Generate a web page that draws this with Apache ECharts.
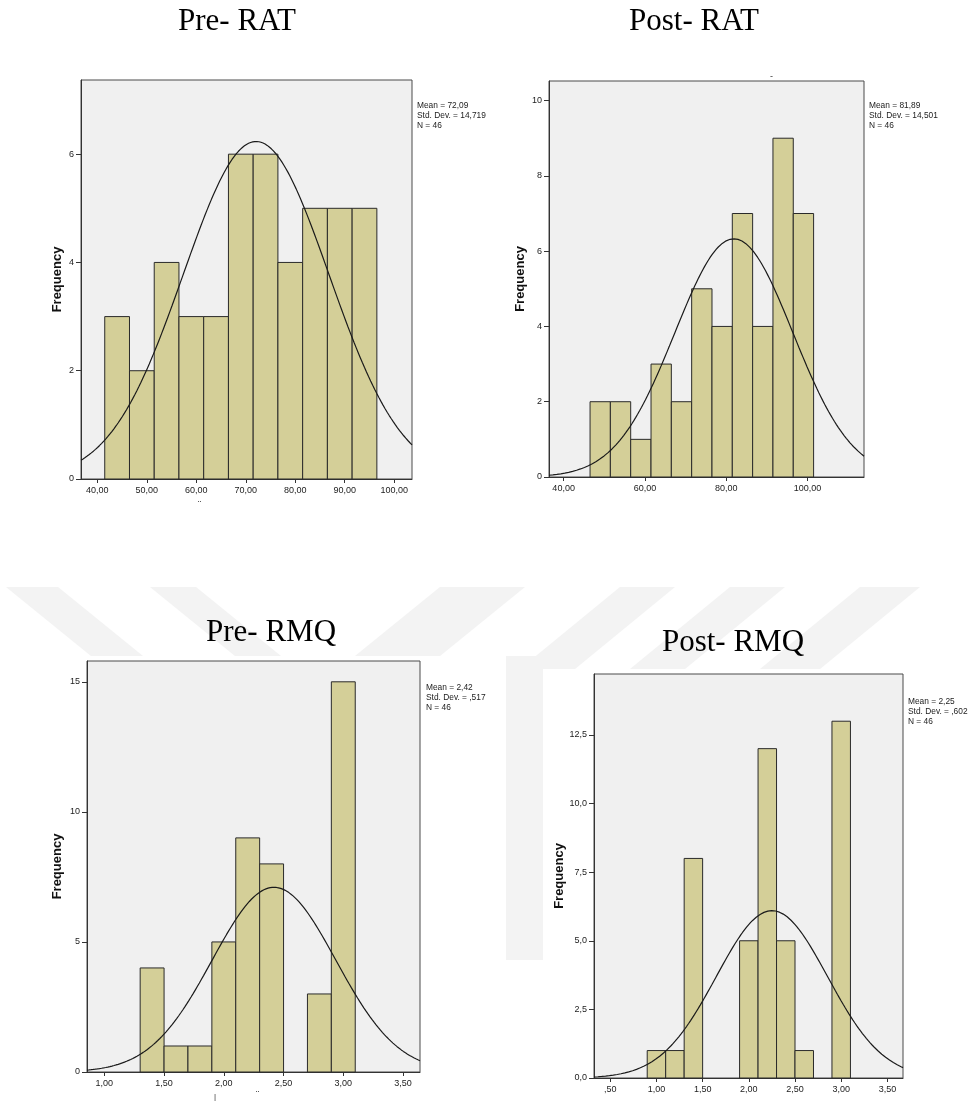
<!DOCTYPE html>
<html>
<head>
<meta charset="utf-8">
<title>RAT / RMQ histograms</title>
<script src="https://cdn.jsdelivr.net/npm/echarts@6/dist/echarts.min.js"></script>
<style>
  html, body { margin: 0; padding: 0; background: #fff; }
  #main { width: 968px; height: 1103px; }
</style>
</head>
<body>
<div id="main"></div>
<script>
// Pre- RAT (lower bin edges, width 5)
const preRatBins = [41.5, 46.5, 51.5, 56.5, 61.5, 66.5, 71.5, 76.5, 81.5, 86.5, 91.5]
const preRatCounts = [3, 2, 4, 3, 3, 6, 6, 4, 5, 5, 5]
const preRatStats = [72.09, 14.719, 46]
const preRatXTicks = [40, 50, 60, 70, 80, 90, 100]
const preRatYTicks = [0, 2, 4, 6]

// Post- RAT
const postRatBins = [46.5, 51.5, 56.5, 61.5, 66.5, 71.5, 76.5, 81.5, 86.5, 91.5, 96.5]
const postRatCounts = [2, 2, 1, 3, 2, 5, 4, 7, 4, 9, 7]
const postRatStats = [81.89, 14.501, 46]
const postRatXTicks = [40, 60, 80, 100]
const postRatYTicks = [0, 2, 4, 6, 8, 10]

// Pre- RMQ (width 0.2)
const preRmqBins = [1.3, 1.5, 1.7, 1.9, 2.1, 2.3, 2.5, 2.7, 2.9]
const preRmqCounts = [4, 1, 1, 5, 9, 8, 0, 3, 15]
const preRmqStats = [2.42, 0.517, 46]
const preRmqXTicks = [1, 1.5, 2, 2.5, 3, 3.5]
const preRmqYTicks = [0, 5, 10, 15]

// Post- RMQ
const postRmqBins = [0.9, 1.1, 1.3, 1.5, 1.7, 1.9, 2.1, 2.3, 2.5, 2.7, 2.9]
const postRmqCounts = [1, 1, 8, 0, 0, 5, 12, 5, 1, 0, 13]
const postRmqStats = [2.25, 0.602, 46]
const postRmqXTicks = [0.5, 1, 1.5, 2, 2.5, 3, 3.5]
const postRmqYTicks = [0, 2.5, 5, 7.5, 10, 12.5]

const statLabels = ['Mean = 72,09\nStd. Dev. = 14,719\nN = 46',
  'Mean = 81,89\nStd. Dev. = 14,501\nN = 46',
  'Mean = 2,42\nStd. Dev. = ,517\nN = 46',
  'Mean = 2,25\nStd. Dev. = ,602\nN = 46']

const titles = ['Pre- RAT', 'Post- RAT', 'Pre- RMQ', 'Post- RMQ']

const sans = '"Liberation Sans", Arial, sans-serif'
const barFill = '#d4cf98'

let myChart = echarts.init(document.getElementById('main'), null, { renderer: 'canvas' })

function fmtX (v) {
  return v.toFixed(2).replace('.', ',').replace(/^0,/, ',')
}

function xAxisFor (gi, min, max, ticks) {
  return {
    type: 'value',
    gridIndex: gi,
    min: min,
    max: max,
    axisLine: { show: true, onZero: false, lineStyle: { color: '#333', width: 1 } },
    axisTick: { show: true, length: 4, customValues: ticks, lineStyle: { color: '#333' } },
    axisLabel: {
      customValues: ticks,
      formatter: fmtX,
      margin: 7,
      fontFamily: sans,
      fontSize: 9,
      color: '#222'
    },
    splitLine: { show: false }
  }
}

function yAxisFor (gi, max, ticks, gap, decimals) {
  return {
    type: 'value',
    gridIndex: gi,
    min: 0,
    max: max,
    name: 'Frequency',
    nameLocation: 'middle',
    nameRotate: 90,
    nameGap: gap,
    nameTextStyle: { fontFamily: sans, fontWeight: 'bold', fontSize: 13, color: '#111' },
    axisLine: { show: true, lineStyle: { color: '#333', width: 1 } },
    axisTick: { show: true, length: 5, customValues: ticks, lineStyle: { color: '#333' } },
    axisLabel: {
      customValues: ticks,
      formatter: v => v.toFixed(decimals).replace('.', ','),
      margin: 7,
      fontFamily: sans,
      fontSize: 9,
      color: '#222'
    },
    splitLine: { show: false }
  }
}

// histogram bars through the axis scales
function histSeries (gi, bins, counts, width) {
  return {
    type: 'custom',
    xAxisIndex: gi,
    yAxisIndex: gi,
    z: 2,
    data: counts.map((c, i) => [bins[i], bins[i] + width, c]),
    encode: { x: [0, 1], y: 2 },
    renderItem (params, api) {
      if (!api.value(2)) return { type: 'group', children: [] }
      let p0 = api.coord([api.value(0), api.value(2)])
      let p1 = api.coord([api.value(1), 0])
      return {
        type: 'rect',
        shape: { x: p0[0], y: p0[1], width: p1[0] - p0[0], height: p1[1] - p0[1] },
        style: { fill: barFill, stroke: '#2a2a2a', lineWidth: 1 }
      }
    }
  }
}

// fitted normal curve from the printed Mean / Std. Dev. / N
function normalSeries (gi, stats, width, min, max) {
  let [mean, sd, n] = stats
  let pts = []
  for (let i = 0; i <= 160; i++) {
    let x = min + (max - min) * i / 160
    let z = (x - mean) / sd
    pts.push([x, n * width * Math.exp(-z * z / 2) / (sd * Math.sqrt(2 * Math.PI))])
  }
  return {
    type: 'line',
    xAxisIndex: gi,
    yAxisIndex: gi,
    z: 3,
    data: pts,
    showSymbol: false,
    smooth: false,
    silent: true,
    lineStyle: { color: '#1a1a1a', width: 1.2 }
  }
}

const grids = [
  { left: 81, top: 80, width: 331, height: 399 },
  { left: 549, top: 81, width: 315, height: 396 },
  { left: 87, top: 661, width: 333, height: 411 },
  { left: 594, top: 674, width: 309, height: 404 }
].map(g => Object.assign(g, {
  show: true,
  backgroundColor: '#f0f0f0',
  borderColor: '#4a4a4a',
  borderWidth: 1,
  containLabel: false
}))

const xRanges = [[36.7, 103.6], [36.4, 113.9], [0.855, 3.642], [0.324, 3.669]]

// faint watermark behind the charts
const wm = '#f3f3f3'
const watermark = [
  [[6, 587], [58, 587], [143, 656], [91, 656]],
  [[150, 587], [196, 587], [281, 656], [235, 656]],
  [[440, 587], [525, 587], [440, 656], [355, 656]],
  [[620, 587], [675, 587], [575, 669], [520, 669]],
  [[730, 587], [785, 587], [685, 669], [630, 669]],
  [[860, 587], [920, 587], [820, 669], [760, 669]],
  [[506, 656], [543, 656], [543, 960], [506, 960]]
].map(pts => ({ type: 'polygon', z: -20, silent: true, shape: { points: pts }, style: { fill: wm } }))

const whiteBlocks = [
  { type: 'rect', z: -10, silent: true, shape: { x: 0, y: 656, width: 506, height: 447 }, style: { fill: '#fff' } },
  { type: 'rect', z: -10, silent: true, shape: { x: 543, y: 669, width: 425, height: 434 }, style: { fill: '#fff' } }
]

const titlePos = [[237, 22], [694, 22], [271, 633], [733, 643]]
const titleText = titles.map((t, i) => ({
  type: 'text',
  z: 50,
  x: titlePos[i][0],
  y: titlePos[i][1],
  style: {
    text: t,
    font: '31px "Liberation Serif", "Times New Roman", serif',
    fill: '#000',
    textAlign: 'center',
    textVerticalAlign: 'middle'
  }
}))

// condensed look of the SPSS legend text
const statPos = [[417, 100], [869, 100], [426, 682], [908, 696]]
const statText = statLabels.map((t, i) => ({
  type: 'text',
  z: 50,
  x: statPos[i][0],
  y: statPos[i][1],
  scaleX: 0.88,
  style: {
    text: t,
    font: '9.5px ' + sans,
    lineHeight: 10,
    fill: '#222',
    textAlign: 'left',
    textVerticalAlign: 'top'
  }
}))

// small leftovers of cropped axis titles
const bits = [
  { type: 'text', z: 50, x: 770, y: 72, style: { text: '-', font: '9px sans-serif', fill: '#333' } },
  { type: 'text', z: 50, x: 198, y: 501, style: { text: '¨', font: '10px sans-serif', fill: '#333' } },
  { type: 'text', z: 50, x: 214, y: 1093, style: { text: '|', font: '8px sans-serif', fill: '#333' } },
  { type: 'text', z: 50, x: 256, y: 1091, style: { text: '¨', font: '10px sans-serif', fill: '#333' } }
]

let option = {
  animation: false,
  backgroundColor: '#fff',
  grid: grids,
  xAxis: [
    xAxisFor(0, xRanges[0][0], xRanges[0][1], preRatXTicks),
    xAxisFor(1, xRanges[1][0], xRanges[1][1], postRatXTicks),
    xAxisFor(2, xRanges[2][0], xRanges[2][1], preRmqXTicks),
    xAxisFor(3, xRanges[3][0], xRanges[3][1], postRmqXTicks)
  ],
  yAxis: [
    yAxisFor(0, 7.37, preRatYTicks, 17, 0),
    yAxisFor(1, 10.52, postRatYTicks, 22, 0),
    yAxisFor(2, 15.8, preRmqYTicks, 23, 0),
    yAxisFor(3, 14.72, postRmqYTicks, 28, 1)
  ],
  series: [
    histSeries(0, preRatBins, preRatCounts, 5),
    normalSeries(0, preRatStats, 5, xRanges[0][0], xRanges[0][1]),
    histSeries(1, postRatBins, postRatCounts, 5),
    normalSeries(1, postRatStats, 5, xRanges[1][0], xRanges[1][1]),
    histSeries(2, preRmqBins, preRmqCounts, 0.2),
    normalSeries(2, preRmqStats, 0.2, xRanges[2][0], xRanges[2][1]),
    histSeries(3, postRmqBins, postRmqCounts, 0.2),
    normalSeries(3, postRmqStats, 0.2, xRanges[3][0], xRanges[3][1])
  ],
  graphic: watermark.concat(whiteBlocks, titleText, statText, bits)
}

myChart.setOption(option, true)
</script>
</body>
</html>
